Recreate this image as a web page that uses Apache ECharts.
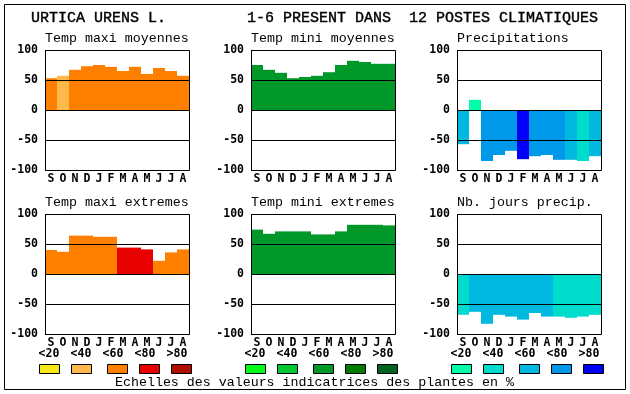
<!DOCTYPE html>
<html><head><meta charset="utf-8">
<script src="https://cdn.jsdelivr.net/npm/echarts@6/dist/echarts.min.js"></script>
<style>html,body{margin:0;padding:0;background:#fff}#c{width:630px;height:394px}</style>
</head><body><div id="c"></div>
<script>
const months = ['S','O','N','D','J','F','M','A','M','J','J','A'];
const yTicks = [-100, -50, 0, 50, 100];
const classLabels = ['<20','<40','<60','<80','>80'];
const orangePalette = ['#f8e818','#ffb84c','#ff8000','#e80000','#b00c00'];
const greenPalette = ['#00ff18','#00c830','#009828','#007c00','#006420'];
const bluePalette = ['#00ffa8','#00dccc','#00b8e0','#0098e8','#0000f8'];

const titleText = 'URTICA URENS L.         1-6 PRESENT DANS  12 POSTES CLIMATIQUES';
const footText = 'Echelles des valeurs indicatrices des plantes en %';

const maxiMoyTitle = 'Temp maxi moyennes';
const maxiMoy = [53,57,67,73,75,72,65,72,60,70,65,57];
const maxiMoyCls = [2,1,2,2,2,2,2,2,2,2,2,2];

const miniMoyTitle = 'Temp mini moyennes';
const miniMoy = [75,67,62,53,55,57,63,75,82,80,77,77];
const miniMoyCls = [2,2,2,2,2,2,2,2,2,2,2,2];

const precipTitle = 'Precipitations';
const precip = [-57,17,-85,-75,-68,-82,-77,-75,-83,-83,-85,-77];
const precipCls = [2,0,3,3,3,4,3,3,3,2,1,2];

const maxiExtTitle = 'Temp maxi extremes';
const maxiExt = [40,37,64,64,62,62,44,44,41,22,36,41];
const maxiExtCls = [2,2,2,2,2,2,3,3,3,2,2,2];

const miniExtTitle = 'Temp mini extremes';
const miniExt = [74,67,71,71,71,66,66,71,82,82,82,81];
const miniExtCls = [2,2,2,2,2,2,2,2,2,2,2,2];

const nbJoursTitle = 'Nb. jours precip.';
const nbJours = [-68,-63,-83,-68,-71,-76,-65,-71,-71,-73,-71,-68];
const nbJoursCls = [1,2,2,2,2,2,2,2,1,1,1,1];

const panels = [
  {title: maxiMoyTitle, data: maxiMoy, cls: maxiMoyCls, pal: orangePalette, col: 0, row: 0},
  {title: miniMoyTitle, data: miniMoy, cls: miniMoyCls, pal: greenPalette, col: 1, row: 0},
  {title: precipTitle, data: precip, cls: precipCls, pal: bluePalette, col: 2, row: 0},
  {title: maxiExtTitle, data: maxiExt, cls: maxiExtCls, pal: orangePalette, col: 0, row: 1},
  {title: miniExtTitle, data: miniExt, cls: miniExtCls, pal: greenPalette, col: 1, row: 1},
  {title: nbJoursTitle, data: nbJours, cls: nbJoursCls, pal: bluePalette, col: 2, row: 1}
];

const MONO = '"Liberation Mono","DejaVu Sans Mono",monospace';
const BMONO = '"DejaVu Sans Mono","Liberation Mono",monospace';
const colX = [45, 251, 457];
const rowY = [50, 214];
const PW = 144, PH = 120;

const grids = [], xAxes = [], yAxes = [], series = [], graphics = [];

graphics.push({type:'rect', z:100, shape:{x:4.5,y:4.5,width:621,height:385}, style:{fill:'none',stroke:'#000',lineWidth:1}});
graphics.push({type:'text', z:100, x:31, y:18, style:{text:titleText, font:'15px '+MONO, fill:'#000', verticalAlign:'middle', stroke:'#000', lineWidth:0.4}});
graphics.push({type:'text', z:100, x:115, y:382, style:{text:footText, font:'13.3px '+MONO, fill:'#000', verticalAlign:'middle'}});

panels.forEach((p, i) => {
  const left = colX[p.col], top = rowY[p.row];
  grids.push({left: left, top: top, width: PW, height: PH, show: false, containLabel: false});
  xAxes.push({type:'category', gridIndex:i, data: months,
    axisLine:{show:false}, axisTick:{show:false}, splitLine:{show:false},
    axisLabel:{color:'#000', fontFamily: BMONO, fontWeight:'bold', fontSize:11.5, margin:3, interval:0}});
  yAxes.push({type:'value', gridIndex:i, min:-100, max:100, interval:50, z:10,
    axisLine:{show:false}, axisTick:{show:false},
    splitLine:{show:true, lineStyle:{color:'#000', width:1}},
    axisLabel:{color:'#000', fontFamily: BMONO, fontWeight:'bold', fontSize:11.5, margin:7}});
  series.push({type:'bar', xAxisIndex:i, yAxisIndex:i, barWidth:'100%', barCategoryGap:0, silent:true,
    animation:false,
    data: p.data.map((v, k) => ({value: v, itemStyle:{color: p.pal[p.cls[k]]}}))});
  graphics.push({type:'rect', z:100, shape:{x:left+0.5, y:top+0.5, width:PW, height:PH}, style:{fill:'none', stroke:'#000', lineWidth:1}});
  graphics.push({type:'text', z:100, x:left, y:top-12, style:{text:p.title, font:'13.3px '+MONO, fill:'#000', verticalAlign:'middle'}});
  if (p.row === 1) {
    const offs = [49, 81, 113, 145, 177];
    const boxOffs = [-6, 26, 62, 94, 126];
    classLabels.forEach((lab, k) => {
      graphics.push({type:'text', z:100, x:colX[p.col] - 45 + offs[k] + 0, y:354,
        style:{text:lab, font:'bold 11.5px '+BMONO, fill:'#000', align:'center', verticalAlign:'middle'}});
      graphics.push({type:'rect', z:100, shape:{x: left + boxOffs[k] + 0.5, y:364.5, width:20, height:9},
        style:{fill:p.pal[k], stroke:'#000', lineWidth:1}});
    });
  }
});

const chart = echarts.init(document.getElementById('c'), null, {renderer:'canvas'});
chart.setOption({animation:false, grid:grids, xAxis:xAxes, yAxis:yAxes, series:series, graphic:graphics});
</script></body></html>
